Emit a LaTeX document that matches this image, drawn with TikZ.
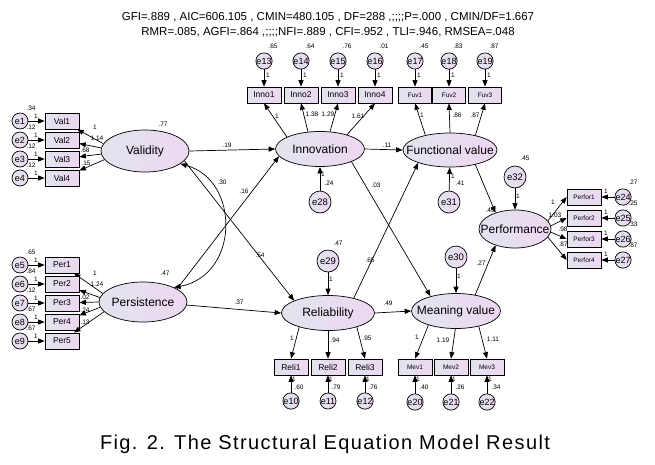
\documentclass[tikz,border=0pt]{standalone}
\usepackage{fontspec}
\setmainfont{Liberation Sans}
\newfontfamily\capfont[LetterSpace=7]{Liberation Sans}
\usepackage{tikz}
\usetikzlibrary{shapes,arrows.meta}
\newcommand{\zw}[1]{\makebox[0pt]{#1}}

\begin{document}
\begin{tikzpicture}[x=1pt,y=-1pt,line width=0.7pt,>={Triangle[length=6.5pt,width=5pt]},
  latent/.style={ellipse,draw,left color=semL,right color=semR,inner sep=0pt,font=\fontsize{12}{12}\selectfont},
  obs/.style={rectangle,draw,left color=semL,right color=semR,inner sep=0pt,minimum width=34pt,minimum height=16pt,font=\fontsize{8.5}{8.5}\selectfont},
  obssmall/.style={obs,font=\fontsize{6.5}{6.5}\selectfont},
  err/.style={circle,draw,left color=semL,right color=semR,inner sep=0pt,minimum size=16pt,font=\fontsize{9}{9}\selectfont},
  errbig/.style={err,minimum size=22pt,font=\fontsize{9.5}{9.5}\selectfont},
  num/.style={inner sep=0pt,font=\fontsize{6.5}{6.5}\selectfont}]
\definecolor{semL}{RGB}{226,228,238}
\definecolor{semR}{RGB}{237,215,241}
\useasboundingbox[fill=white] (0,0) rectangle (655,464);
\node[inner sep=0pt,font=\fontsize{11.5}{11.5}\selectfont] (fitA) at (328,17) {GFI=.889 , AIC=606.105 , CMIN=480.105 , DF=288 ,;;;;P=.000 , CMIN/DF=1.667};
\node[inner sep=0pt,font=\fontsize{11.5}{11.5}\selectfont] (fitB) at (328,32) {RMR=.085, AGFI=.864 ,;;;;NFI=.889 , CFI=.952 , TLI=.946, RMSEA=.048};
\node[inner sep=0pt,font=\capfont\fontsize{20}{20}\selectfont] (caption) at (325,444) {Fig. 2. The Structural Equation Model Result};

\node[latent,minimum width=88pt,minimum height=42pt] (Validity) at (145,151) {\zw{Validity}};
\node[latent,minimum width=88pt,minimum height=40pt] (Persistence) at (143,302) {\zw{Persistence}};
\node[latent,minimum width=89pt,minimum height=35pt] (Innovation) at (320,149) {\zw{Innovation}};
\node[latent,minimum width=94pt,minimum height=34pt] (Functional) at (450,150) {\zw{Functional value}};
\node[latent,minimum width=93pt,minimum height=35pt] (Reliability) at (328,313) {\zw{Reliability}};
\node[latent,minimum width=89pt,minimum height=35pt] (Meaning) at (456,311) {\zw{Meaning value}};
\node[latent,minimum width=72pt,minimum height=38pt] (Performance) at (515,229) {\zw{Performance}};
\node[num] (vValidity) at (163,124) {.77};
\node[num] (vPersistence) at (165,273) {.47};

\foreach \i/\y/\a/\v/\l/\lx/\ly in {1/121/170/.34/1/95/127,2/140/176/.12/1.14/97/138,3/159/184/.12/.68/85/150,4/178/192/.12/.15/86/163}{
  \node[obs] (Val\i) at (62,\y) {Val\i};
  \node[err] (e\i) at (20,\y) {e\i};
  \draw[->] (e\i) -- (Val\i);
  \draw[->] (Validity.\a) -- (Val\i);
  \node[num] (ve\i) at (31,\y-13) {\v};
  \node[num] (we\i) at (36,\y-5) {1};
  \node[num] (lVal\i) at (\lx,\ly) {\l};
}
\foreach \i/\e/\y/\a/\v/\l/\lx/\ly in {1/5/265/168/.65/1/95/273,2/6/284/174/.84/1.24/97/284,3/7/303/180/.12/.02/85/297,4/8/322/187/.67/.24/85/310,5/9/341/194/.67/.13/85/322}{
  \node[obs] (Per\i) at (62,\y) {Per\i};
  \node[err] (e\e) at (20,\y) {e\e};
  \draw[->] (e\e) -- (Per\i);
  \draw[->] (Persistence.\a) -- (Per\i);
  \node[num] (ve\e) at (31,\y-13) {\v};
  \node[num] (we\e) at (36,\y-5) {1};
  \node[num] (lPer\i) at (\lx,\ly) {\l};
}
\foreach \i/\e/\x/\a/\v/\l/\lx/\ly in {1/13/264/160/.65/1/277/116,2/14/301/125/.64/1.38/312/114,3/15/338/60/.76/1.29/328/114,4/16/375/28/.01/1.61/358/116}{
  \node[obs] (Inno\i) at (\x,95) {Inno\i};
  \node[err] (e\e) at (\x,61) {e\e};
  \draw[->] (e\e) -- (Inno\i);
  \draw[->] (Innovation.\a) -- (Inno\i.south);
  \node[num] (ve\e) at (\x+9,46) {\v};
  \node[num] (we\e) at (\x+4,75) {1};
  \node[num] (lInno\i) at (\lx,\ly) {\l};
}
\foreach \i/\e/\x/\a/\v/\l/\lx/\ly in {1/17/415/149/.45/1/422/115,2/18/449/90/.83/.86/457/115,3/19/485/30/.87/.87/475/115}{
  \node[obssmall,minimum width=33pt] (Fuv\i) at (\x,95) {Fuv\i};
  \node[err] (e\e) at (\x,61) {e\e};
  \draw[->] (e\e) -- (Fuv\i);
  \draw[->] (Functional.\a) -- (Fuv\i.south);
  \node[num] (ve\e) at (\x+9,46) {\v};
  \node[num] (we\e) at (\x+4,75) {1};
  \node[num] (lFuv\i) at (\lx,\ly) {\l};
}
\foreach \i/\e/\y/\a/\v/\l/\lx/\ly in {1/24/197/14/.27/1/553/202,2/25/218/5/.25/1.03/555/215,3/26/239/-5/.33/.98/563/229,4/27/260/-14/.87/.87/563/244}{
  \node[obssmall] (Perfor\i) at (584,\y) {Perfor\i};
  \node[err] (e\e) at (623,\y) {e\e};
  \draw[->] (e\e) -- (Perfor\i);
  \draw[->] (Performance.\a) -- (Perfor\i.west);
  \node[num] (ve\e) at (633,\y-15) {\v};
  \node[num] (we\e) at (606,\y-6) {1};
  \node[num] (lPerfor\i) at (\lx,\ly) {\l};
}
\foreach \i/\e/\x/\a/\v/\l/\lx/\ly in {1/10/291/-154/.60/1/292/338,2/11/328/-90/.79/.94/335/340,3/12/365/-26/.76/.95/367/338}{
  \node[obs] (Reli\i) at (\x,367) {Reli\i};
  \node[err] (e\e) at (\x,401) {e\e};
  \draw[->] (e\e) -- (Reli\i);
  \draw[->] (Reliability.\a) -- (Reli\i.north);
  \node[num] (ve\e) at (\x+8,387) {\v};
  \node[num] (we\e) at (\x+3,379) {1};
  \node[num] (lReli\i) at (\lx,\ly) {\l};
}
\foreach \i/\e/\x/\a/\v/\l/\lx/\ly in {1/20/415/-153/.40/1/417/337,2/21/451/-92/.26/1.19/443/340,3/22/487/-34/.34/1.11/493/339}{
  \node[obssmall] (Mev\i) at (\x,367) {Mev\i};
  \node[err] (e\e) at (\x,402) {e\e};
  \draw[->] (e\e) -- (Mev\i);
  \draw[->] (Meaning.\a) -- (Mev\i.north);
  \node[num] (ve\e) at (\x+9,387) {\v};
  \node[num] (we\e) at (\x+3,379) {1};
  \node[num] (lMev\i) at (\lx,\ly) {\l};
}

\node[errbig] (e28) at (320,202) {e28};
\node[errbig] (e31) at (449,202) {e31};
\node[errbig] (e29) at (328,261) {e29};
\node[errbig] (e30) at (456,257) {e30};
\node[errbig] (e32) at (515,177) {e32};
\draw[->] (e28) -- (Innovation);
\draw[->] (e31) -- (Functional);
\draw[->] (e29) -- (Reliability);
\draw[->] (e30) -- (Meaning);
\draw[->] (e32) -- (Performance);
\node[num] (we28) at (323,174) {1};
\node[num] (ve28) at (329,183) {.24};
\node[num] (we31) at (453,176) {1};
\node[num] (ve31) at (460,183) {.41};
\node[num] (we29) at (331,279) {1};
\node[num] (ve29) at (338,243) {.47};
\node[num] (we30) at (459,276) {1};
\node[num] (we32) at (518,196) {1};
\node[num] (ve32) at (525,158) {.45};

\draw[->] (Validity.east) -- (Innovation.west);
\draw[->] (Validity.-14) -- (Reliability.160);
\draw[->] (Persistence.21) -- (Innovation.-170);
\draw[->] (Persistence.-4) -- (Reliability.west);
\draw[<->] (Validity.-20) .. controls (240,180) and (240,275) .. (Persistence.25);
\draw[->] (Innovation.east) -- (Functional.west);
\draw[->] (Innovation.-22) -- (Meaning.150);
\draw[->] (Reliability.30) -- (Functional.-158);
\draw[->] (Reliability.east) -- (Meaning.west);
\draw[->] (Functional.-30) -- (Performance.140);
\draw[->] (Meaning.40) -- (Performance.-140);
\node[num] (pVI) at (227,145) {.19};
\node[num] (pVR) at (260,255) {.54};
\node[num] (pPI) at (244,191) {.16};
\node[num] (pPR) at (239,302) {.37};
\node[num] (cVP) at (222,182) {.30};
\node[num] (pIF) at (387,145) {.11};
\node[num] (pIM) at (376,185) {.03};
\node[num] (pRF) at (370,260) {.65};
\node[num] (pRM) at (388,303) {.49};
\node[num] (pFP) at (490,210) {.49};
\node[num] (pMP) at (481,263) {.27};
\end{tikzpicture}
\end{document}
